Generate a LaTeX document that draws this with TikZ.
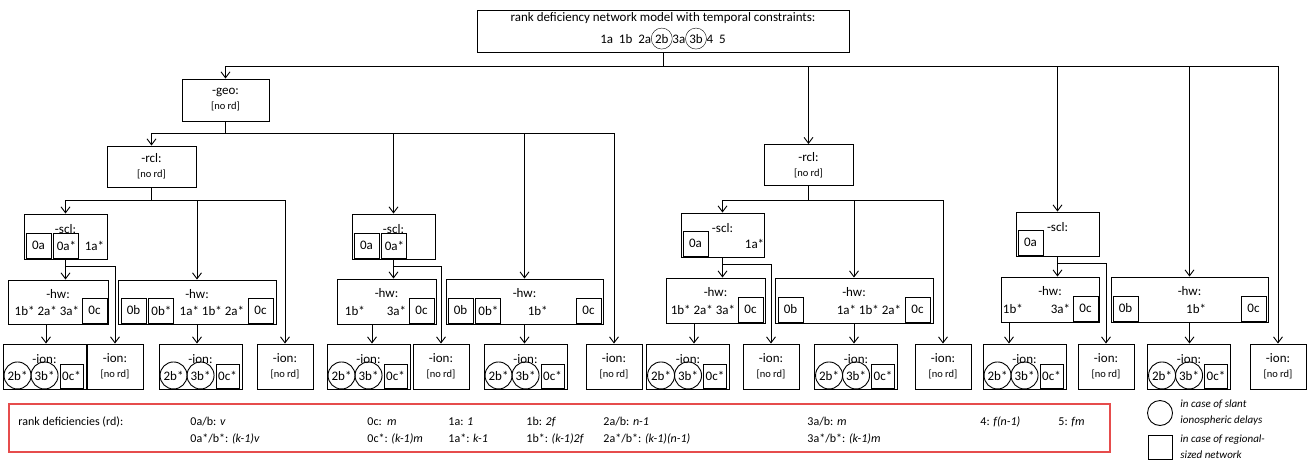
\documentclass[tikz,border=0pt]{standalone}
\usepackage{fontspec}
\setmainfont{Carlito}
\usetikzlibrary{positioning,arrows.meta,calc}
\definecolor{rdred}{RGB}{230,76,76}
\newcommand{\nrd}{\fontsize{10.5}{12}\selectfont}
\newcommand{\cb}[1]{\tikz[baseline=(cbx.base)]\node[draw,circle,inner sep=0pt,minimum size=21pt](cbx){#1};}

\begin{document}
\begin{tikzpicture}[x=1pt,y=-1pt,
  font=\fontsize{13}{15}\selectfont,
  line width=0.9pt,
  box/.style={draw, inner sep=0pt, align=center},
  ttl/.style={inner sep=0pt},
  sb/.style={draw, minimum width=25pt, minimum height=25pt, inner sep=0pt},
  circ/.style={draw, circle, minimum size=27pt, inner sep=0pt},
  it/.style={inner sep=0pt},
  arr/.style={-{Straight Barb[length=6pt,width=9pt]}},
  lg/.style={anchor=base west, inner sep=0pt, font=\fontsize{12}{14}\selectfont},
  sym/.style={anchor=west, align=left, inner sep=0pt, font=\fontsize{11}{16}\selectfont\itshape},
]
\useasboundingbox (0,0) rectangle (1309,459);
% model
\node[box, minimum width=372pt, minimum height=42pt] (top) at (663,31) {rank deficiency network model with temporal constraints:\\[3pt]1a\ \ 1b\ \ 2a\cb{2b}3a\cb{3b}4\ \ 5};
% ---- geo / rcl ----
\node[box, minimum width=87pt, minimum height=42pt] (geo) at (225.5,100) {-geo:\\{\nrd [no rd]}};
\node[box, minimum width=89pt, minimum height=41pt] (rclL) at (151.5,166.5) {-rcl:\\{\nrd [no rd]}};
\node[box, minimum width=89pt, minimum height=41pt] (rclR) at (808.5,165) {-rcl:\\{\nrd [no rd]}};
% ---- scl ----
\node[box, minimum width=83pt, minimum height=45pt] (sclL) at (65.5,236.5) {};
\node[box, minimum width=83pt, minimum height=45pt] (sclM) at (393.5,236.5) {};
\node[box, minimum width=83pt, minimum height=44pt] (sclMR) at (722.5,235) {};
\node[box, minimum width=83pt, minimum height=44pt] (sclR) at (1057.5,234) {};
\foreach \n in {sclL,sclM,sclMR,sclR} \node[ttl, below=10pt of \n.north] (\n t) {-scl:};
\node[sb, above right=1pt and 2pt of sclL.south west] (sclL0a) {0a};
\node[sb, right=2pt of sclL0a] (sclL0as) {0a*};
\node[it, right=5pt of sclL0as] (sclL1as) {1a*};
\node[sb, above right=1pt and 2pt of sclM.south west] (sclM0a) {0a};
\node[sb, right=2pt of sclM0a] (sclM0as) {0a*};
\node[sb, above right=1pt and 2pt of sclMR.south west] (sclMR0a) {0a};
\node[it, right=36pt of sclMR0a] (sclMR1as) {1a*};
\node[sb, above right=1pt and 2pt of sclR.south west] (sclR0a) {0a};
% ---- hw ----
\node[box, minimum width=100pt, minimum height=44pt] (hwL1) at (58,302) {};
\node[box, minimum width=158pt, minimum height=44pt] (hwL2) at (197,302) {};
\node[box, minimum width=99pt, minimum height=45pt] (hwM1) at (386.5,301.5) {};
\node[box, minimum width=157pt, minimum height=45pt] (hwM2) at (524.5,301.5) {};
\node[box, minimum width=99pt, minimum height=45pt] (hwMR1) at (715.5,300.5) {};
\node[box, minimum width=158pt, minimum height=45pt] (hwMR2) at (854,300.5) {};
\node[box, minimum width=98pt, minimum height=45pt] (hwR1) at (1050,299.5) {};
\node[box, minimum width=157pt, minimum height=45pt] (hwR2) at (1189.5,299.5) {};
\foreach \n in {hwL1,hwL2,hwM1,hwM2,hwMR1,hwMR2,hwR1,hwR2} \node[ttl, below=9pt of \n.north] (\n t) {-hw:};
\node[sb, above left=1pt and 1pt of hwL1.south east] (hwL10c) {0c};
\node[it, left=2pt of hwL10c] (hwL1x) {1b* 2a* 3a*};
\node[sb, above right=1pt and 3pt of hwL2.south west] (hwL20b) {0b};
\node[sb, right=2pt of hwL20b] (hwL20bs) {0b*};
\node[sb, above left=1pt and 3pt of hwL2.south east] (hwL20c) {0c};
\node[it, left=3pt of hwL20c] (hwL2x) {1a* 1b* 2a*};
\node[sb, above left=1pt and 2pt of hwM1.south east] (hwM10c) {0c};
\node[it, left=2pt of hwM10c] (hwM1x) {1b*\hspace{22pt}3a*};
\node[sb, above right=1pt and 2pt of hwM2.south west] (hwM20b) {0b};
\node[sb, right=2pt of hwM20b] (hwM20bs) {0b*};
\node[sb, above left=1pt and 2pt of hwM2.south east] (hwM20c) {0c};
\node[it, right=26pt of hwM20bs] (hwM2x) {1b*};
\node[sb, above left=1pt and 2pt of hwMR1.south east] (hwMR10c) {0c};
\node[it, left=2pt of hwMR10c] (hwMR1x) {1b* 2a* 3a*};
\node[sb, above right=1pt and 3pt of hwMR2.south west] (hwMR20b) {0b};
\node[sb, above left=1pt and 3pt of hwMR2.south east] (hwMR20c) {0c};
\node[it, left=3pt of hwMR20c] (hwMR2x) {1a* 1b* 2a*};
\node[sb, above left=1pt and 1pt of hwR1.south east] (hwR10c) {0c};
\node[it, left=2pt of hwR10c] (hwR1x) {1b*\hspace{28pt}3a*};
\node[sb, above right=1pt and 2pt of hwR2.south west] (hwR20b) {0b};
\node[sb, above left=1pt and 2pt of hwR2.south east] (hwR20c) {0c};
\node[it, left=34pt of hwR20c] (hwR2x) {1b*};
% ---- ion ----
\node[box, minimum width=83pt, minimum height=45pt] (ionL1) at (44.5,366.5) {};
\node[box, minimum width=83pt, minimum height=45pt] (ionL3) at (200.5,366.5) {};
\node[box, minimum width=83pt, minimum height=45pt] (ionM1) at (368.5,366.5) {};
\node[box, minimum width=83pt, minimum height=45pt] (ionM3) at (525.5,366.5) {};
\node[box, minimum width=83pt, minimum height=45pt] (ionMR1) at (688,366.5) {};
\node[box, minimum width=83pt, minimum height=45pt] (ionMR3) at (856,366.5) {};
\node[box, minimum width=83pt, minimum height=45pt] (ionR1) at (1024.5,366.5) {};
\node[box, minimum width=83pt, minimum height=45pt] (ionR3) at (1189,366.5) {};
\foreach \n in {ionL1,ionL3,ionM1,ionM3,ionMR1,ionMR3,ionR1,ionR3}{
  \node[ttl, below=11pt of \n.north] (\n t) {-ion:};
  \node[circ] (\n a) at ([shift={(15pt,14pt)}]\n.south west) {2b*};
  \node[circ] (\n b) at ([shift={(42pt,14pt)}]\n.south west) {3b*};
  \node[sb, minimum width=23pt, minimum height=24pt, above left=1pt and 3pt of \n.south east] (\n c) {0c*};
}
\foreach \n/\x in {ionL2/115,ionL4/285,ionM2/441,ionM4/614,ionMR2/771,ionMR4/943,ionR2/1106,ionR4/1278}
  \node[box, minimum width=56pt, minimum height=45pt] (\n) at (\x,366.5) {-ion:\\{\nrd [no rd]}};
% ---- connectors ----
\foreach \t in {geo,rclR,sclR,hwR2,ionR4} \draw[arr] (top.south) -- ++(0,14) -| (\t.north);
\foreach \t in {rclL,sclM,hwM2,ionM4} \draw[arr] (geo.south) -- ++(0,12) -| (\t.north);
\foreach \t in {sclL,hwL2,ionL4} \draw[arr] (rclL.south) -- ++(0,13) -| (\t.north);
\foreach \t in {sclMR,hwMR2,ionMR4} \draw[arr] (rclR.south) -- ++(0,14) -| (\t.north);
\foreach \s/\h/\i in {sclL/hwL1/ionL2,sclM/hwM1/ionM2,sclMR/hwMR1/ionMR2,sclR/hwR1/ionR2}{
  \draw[arr] (\s.south) -- (\s.south |- \h.north);
  \draw[arr] (\s.south) -- ++(0,7) -| (\i.north);
}
\foreach \h/\d/\i in {hwL1/-12/ionL1,hwM1/-14.5/ionM1,hwMR1/-21.5/ionMR1,hwR1/-41/ionR1}
  \draw[arr] ([xshift=\d pt]\h.south) coordinate (\h s) -- (\h s |- \i.north);
\foreach \h/\i in {hwL2/ionL3,hwM2/ionM3,hwMR2/ionMR3,hwR2/ionR3}
  \draw[arr] (\h.south) -- (\h.south |- \i.north);
% ---- legend ----
\node[draw=rdred, line width=1.1pt, minimum width=1101pt, minimum height=48pt, inner sep=0pt] (lgd) at (559.5,428) {};
\def\ya{425} \def\yb{442}
\node[lg] (lgt) at (18,\ya) {rank deficiencies (rd):};
\node[lg] (lg0a) at (190,\ya) {0a/b: \textit{v}};
\node[lg] (lg0as) at (190,\yb) {0a*/b*: \textit{(k-1)v}};
\node[lg] (lg0c) at (367,\ya) {0c:\ \ \textit{m}};
\node[lg] (lg0cs) at (367,\yb) {0c*: \textit{(k-1)m}};
\node[lg] (lg1a) at (448,\ya) {1a: \textit{1}};
\node[lg] (lg1as) at (448,\yb) {1a*: \textit{k-1}};
\node[lg] (lg1b) at (526,\ya) {1b: \textit{2f}};
\node[lg] (lg1bs) at (526,\yb) {1b*: \textit{(k-1)2f}};
\node[lg] (lg2a) at (603,\ya) {2a/b: \textit{n-1}};
\node[lg] (lg2as) at (603,\yb) {2a*/b*: \textit{(k-1)(n-1)}};
\node[lg] (lg3a) at (807,\ya) {3a/b: \textit{m}};
\node[lg] (lg3as) at (807,\yb) {3a*/b*: \textit{(k-1)m}};
\node[lg] (lg4) at (980,\ya) {4: \textit{f(n-1)}};
\node[lg] (lg5) at (1058,\ya) {5: \textit{fm}};
% symbols
\node[draw, circle, minimum size=25pt, inner sep=0pt] (symc) at (1160,413) {};
\node[sym] (symct) at (1180,413) {in case of slant\\ionospheric delays};
\node[draw, minimum width=24pt, minimum height=24pt, inner sep=0pt] (syms) at (1160,447) {};
\node[sym] (symst) at (1180,447) {in case of regional-\\sized network};
\end{tikzpicture}
\end{document}
